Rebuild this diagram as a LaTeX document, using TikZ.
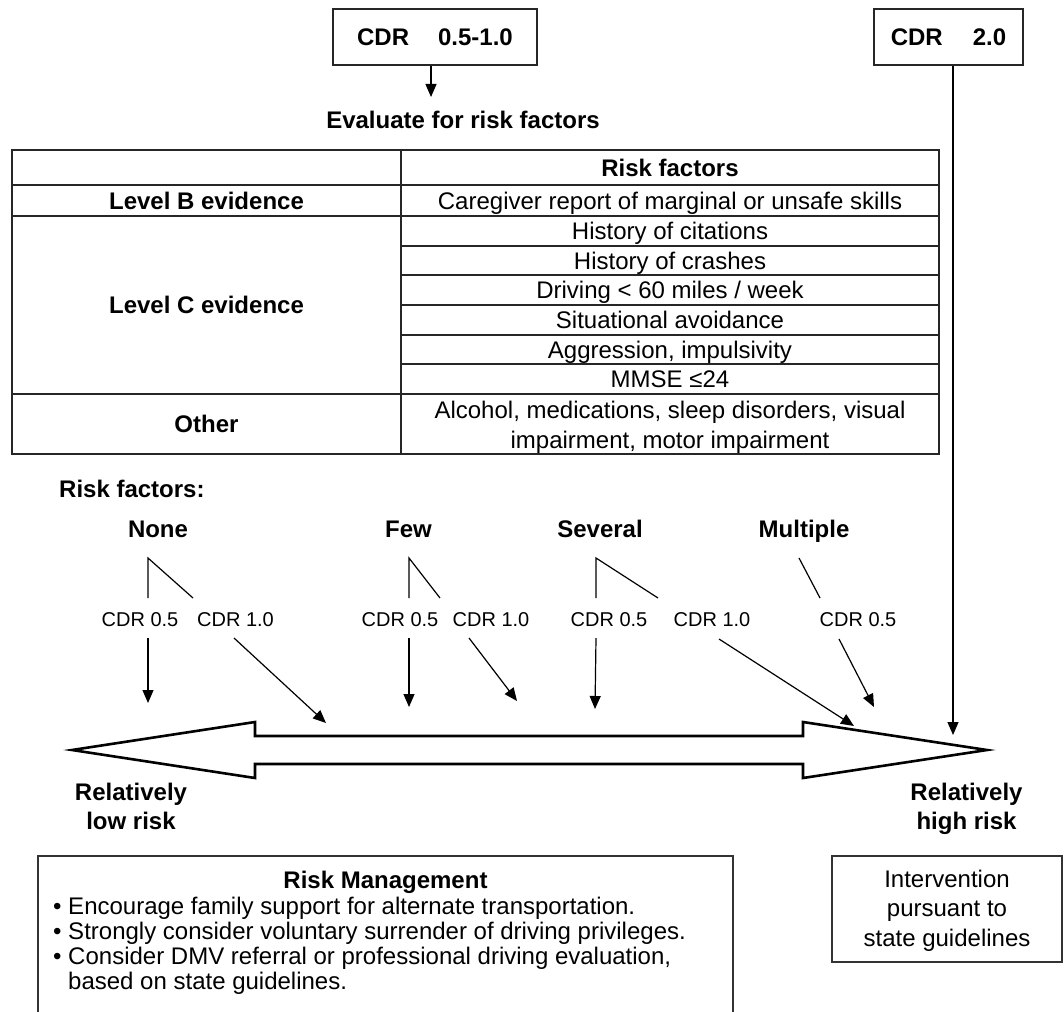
\documentclass[tikz,border=0pt]{standalone}
\usepackage{fontspec}
\setmainfont{Liberation Sans}
\usetikzlibrary{arrows.meta}
\begin{document}
\begin{tikzpicture}[x=1pt,y=-1pt,
  hd/.style={font=\fontsize{24}{25}\selectfont\bfseries, inner sep=0pt, anchor=base},
  rg/.style={font=\fontsize{24}{25}\selectfont, inner sep=0pt, anchor=base},
  sm/.style={font=\fontsize{20}{22}\selectfont, inner sep=0pt, anchor=base},
  topbox/.style={draw=black!85, line width=1.6pt, inner sep=0pt, font=\fontsize{24}{25}\selectfont\bfseries},
  tline/.style={draw=black!85, line width=2.2pt},
  obox/.style={draw=black!80, line width=1.4pt},
  conn/.style={draw=black, line width=1.2pt},
  arr/.style={conn, -{Triangle[length=13pt,width=11pt]}},
  bigarrow/.style={draw=black, line width=2.6pt, line join=miter, fill=white},
]
\useasboundingbox (0,0) rectangle (1064,1011);

% top boxes
\node[topbox, minimum width=204pt, minimum height=56pt] (cdrA) at (435,37) {CDR\hspace{29pt}0.5-1.0};
\node[topbox, minimum width=149pt, minimum height=56pt] (cdrB) at (948.5,37) {CDR\hspace{30pt}2.0};

\coordinate (evalTip) at (431,97);
\draw[arr] (cdrA.south -| evalTip) -- (evalTip);
\node[hd] (eval) at (463,128.6) {Evaluate for risk factors};

% table
\draw[tline] (12,150) rectangle (939,454);
\draw[tline] (401,150) -- (401,454);
\foreach \yy in {185,216,394} \draw[tline] (12,\yy) -- (939,\yy);
\foreach \yy in {245.7,275.3,305,334.7,364.3} \draw[tline] (401,\yy) -- (939,\yy);

\node[hd] (thead) at (670,176.1) {Risk factors};
\node[hd] (lvB) at (206.5,209.1) {Level B evidence};
\node[rg] (rB) at (670,209.1) {Caregiver report of marginal or unsafe skills};
\node[hd] (lvC) at (206.5,313.6) {Level C evidence};
\node[rg] (rC1) at (670,239.4) {History of citations};
\node[rg] (rC2) at (670,269.1) {History of crashes};
\node[rg] (rC3) at (670,298.8) {Driving < 60 miles / week};
\node[rg] (rC4) at (670,328.4) {Situational avoidance};
\node[rg] (rC5) at (670,358.1) {Aggression, impulsivity};
\node[rg] (rC6) at (670,387.8) {MMSE ≤24};
\node[hd] (oth) at (206.5,432.6) {Other};
\node[rg] (rO1) at (670,418.6) {Alcohol, medications, sleep disorders, visual};
\node[rg] (rO2) at (670,448.1) {impairment, motor impairment};

% CDR 2.0 line
\coordinate (highTip) at (953,735);
\draw[arr] (cdrB.south -| highTip) -- (highTip);

% risk factors
\node[hd, anchor=base west] (rf) at (59,497.6) {Risk factors:};
\node[hd] (none) at (158,537.6) {None};
\node[hd] (few) at (408.5,537.6) {Few};
\node[hd] (sev) at (600,537.6) {Several};
\node[hd] (mult) at (804,537.6) {Multiple};

% branch lines
\coordinate (apN) at (148,558); \coordinate (nA) at (148,598); \coordinate (nB) at (193,598);
\coordinate (apF) at (409,558); \coordinate (fA) at (409,598); \coordinate (fB) at (440,598);
\coordinate (apS) at (596,558); \coordinate (sA) at (596,598); \coordinate (sB) at (658,598);
\coordinate (apM) at (799,558); \coordinate (mA) at (820,598);
\draw[conn] (nA) -- (apN) -- (nB);
\draw[conn] (fA) -- (apF) -- (fB);
\draw[conn] (sA) -- (apS) -- (sB);
\draw[conn] (apM) -- (mA);

% CDR labels
\node[sm] (n05) at (140,626.2) {CDR 0.5};
\node[sm] (n10) at (235.5,626.2) {CDR 1.0};
\node[sm] (f05) at (400,626.2) {CDR 0.5};
\node[sm] (f10) at (491,626.2) {CDR 1.0};
\node[sm] (s05) at (609,626.2) {CDR 0.5};
\node[sm] (s10) at (712,626.2) {CDR 1.0};
\node[sm] (m05) at (858,626.2) {CDR 0.5};

% arrows to the risk scale
\coordinate (n05s) at (148,638); \coordinate (n05e) at (148,703);
\coordinate (n10s) at (234,638); \coordinate (n10e) at (326,723);
\coordinate (f05s) at (409,638); \coordinate (f05e) at (409,707);
\coordinate (f10s) at (469,638); \coordinate (f10e) at (517,701);
\coordinate (s05s) at (596,638); \coordinate (s05e) at (595,709);
\coordinate (s10s) at (719,639); \coordinate (s10e) at (854,726);
\coordinate (m05s) at (839,639); \coordinate (m05e) at (874,707);
\draw[arr] (n05s) -- (n05e);
\draw[arr] (n10s) -- (n10e);
\draw[arr] (f05s) -- (f05e);
\draw[arr] (f10s) -- (f10e);
\draw[arr] (s05s) -- (s05e);
\draw[arr] (s10s) -- (s10e);
\draw[arr] (m05s) -- (m05e);

% double arrow
\draw[bigarrow] (72,750) -- (255,722) -- (255,736) -- (803,736) -- (803,722) -- (987,750)
  -- (803,778) -- (803,764) -- (255,764) -- (255,778) -- cycle;

\node[hd] (lowA) at (131,800.6) {Relatively};
\node[hd] (lowB) at (131,829.6) {low risk};
\node[hd] (highA) at (966.5,800.6) {Relatively};
\node[hd] (highB) at (966.5,829.6) {high risk};

% risk management box
\draw[obox] (38,1030) -- (38,856) -- (733,856) -- (733,1030);
\node[hd] (rmT) at (385.5,888) {Risk Management};
\node[rg, anchor=base west] (rm1) at (53,914) {• Encourage family support for alternate transportation.};
\node[rg, anchor=base west] (rm2) at (53,939) {• Strongly consider voluntary surrender of driving privileges.};
\node[rg, anchor=base west] (rm3) at (53,964) {• Consider DMV referral or professional driving evaluation,};
\node[rg, anchor=base west] (rm4) at (68,989) {based on state guidelines.};

% intervention box
\draw[obox] (832,856) rectangle (1062,962);
\node[rg] (iv1) at (947,887) {Intervention};
\node[rg] (iv2) at (947,916.5) {pursuant to};
\node[rg] (iv3) at (947,946) {state guidelines};
\end{tikzpicture}
\end{document}
